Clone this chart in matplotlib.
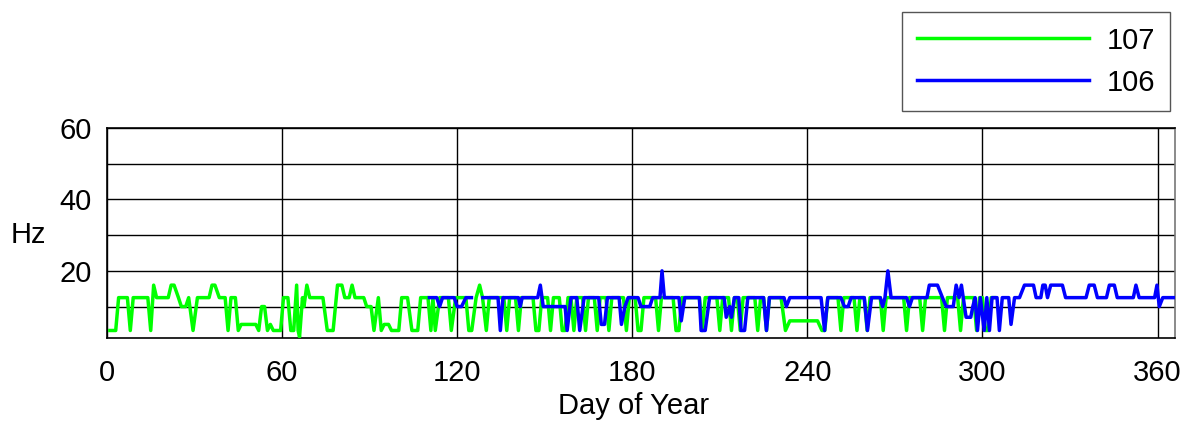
import numpy as np
import matplotlib
matplotlib.use("Agg")
import matplotlib.pyplot as plt
from matplotlib.ticker import MultipleLocator

plt.rcParams['font.family'] = ['Liberation Sans', 'DejaVu Sans']

# series 107 (green) : day of year, Hz
days_107 = [1, 3, 4, 7, 8, 9, 14, 15, 16, 17, 21, 22, 23, 24.5, 25.5, 27, 28, 29.5, 31, 35,
            36, 37, 38.5, 40.5, 41.5, 42.5, 44, 45, 46, 51, 52, 53, 54, 55, 56, 57, 59.5,
            60.5, 62, 63, 64, 65, 65.5, 66, 67, 67.5, 68.5, 69.5, 74, 75.5, 77.5, 79, 80.5,
            81.5, 83, 84, 85, 88, 89, 90.5, 91.5, 93, 94, 95, 96.5, 97.5, 100, 101, 103,
            104.5, 106.5, 107.5, 110, 111, 111.7, 112.5, 114, 117, 118, 119.5, 123, 124, 125,
            126.5, 127.7, 128.7, 130, 131, 136, 137, 138, 140, 141, 142, 146, 147, 148, 149,
            151, 152, 153, 155, 156, 157, 158, 159, 160, 161, 163, 164, 165, 167, 168, 169,
            171, 172, 173, 177, 178, 179, 181, 182, 183, 184, 188, 189, 190, 194, 195, 196,
            197, 203, 204, 205, 209, 210, 211, 213, 214, 215, 216, 217, 218, 222, 223, 224,
            225, 226, 227, 231, 232.5, 234, 243.5, 245, 246, 247, 250.5, 251.5, 252.5, 256,
            257, 258, 259.5, 260.5, 261.5, 265, 266, 267, 273, 274, 275, 278.5, 279.5, 280.5,
            286, 287, 288, 291.5, 292.5, 293.5, 297, 298, 299, 300, 301, 302, 303, 304]
hz_107 = [3.3, 3.3, 12.5, 12.5, 3.3, 12.5, 12.5, 3.3, 16, 12.5, 12.5, 16, 16, 12.5, 10, 10, 12.5, 3.3, 12.5, 12.5,
          16, 16, 12.5, 12.5, 3.3, 12.5, 12.5, 3.3, 5, 5, 3.3, 10, 10, 3.3, 5, 3.3, 3.3,
          12.5, 12.5, 3.3, 3.3, 16, 3.3, 1.5, 12.5, 10, 16, 12.5, 12.5, 3.3, 3.3, 16, 16,
          12.5, 12.5, 16, 12.5, 12.5, 10, 10, 3.3, 12.5, 3.3, 5, 5, 3.3, 3.3, 12.5, 12.5,
          3.3, 3.3, 12.5, 12.5, 3.3, 12.5, 3.3, 12.5, 12.5, 3.3, 12.5, 12.5, 3.3, 3.3,
          12.5, 16, 12.5, 3.3, 12.5, 12.5, 3.3, 12.5, 12.5, 3.3, 12.5, 12.5, 3.3, 3.3, 12.5,
          12.5, 3.3, 12.5, 12.5, 3.3, 3.3, 12.5, 12.5, 3.3, 12.5, 12.5, 3.3, 12.5, 12.5, 3.3, 12.5,
          12.5, 3.3, 12.5, 12.5, 3.3, 12.5, 12.5, 3.3, 3.3, 12.5, 12.5, 3.3, 12.5, 12.5, 3.3, 3.3,
          12.5, 12.5, 3.3, 12.5, 12.5, 3.3, 12.5, 12.5, 3.3, 12.5, 12.5, 3.3, 12.5, 12.5, 3.3, 12.5,
          12.5, 3.3, 12.5, 12.5, 3.3, 6, 6, 3.3, 3.3, 12.5, 12.5, 3.3, 12.5, 12.5,
          3.3, 12.5, 12.5, 3.3, 12.5, 12.5, 3.3, 12.5, 12.5, 3.3, 12.5, 12.5, 3.3, 12.5,
          12.5, 3.3, 12.5, 12.5, 3.3, 12.5, 12.5, 3.3, 12.5, 12.5, 3.3, 3.3, 12.5, 12.5]

# series 106 (blue), nan = missing days
days_106 = [110.5, 113, 114, 115, 119, 120, 121.5, 123, 124.9, 126, 128.8, 134, 134.8, 135.7, 141, 141.6,
            142.3, 147.6, 148.5, 149.5, 150, 152, 157, 157.7, 159, 161, 162, 163.5, 168.5, 169.4,
            170.5, 171.5, 175.5, 176.3, 177.5, 178.6, 182, 183, 186, 187, 189.5, 190.2, 191, 196,
            196.8, 198, 203, 203.6, 205, 206.5, 211.5, 212.2, 213.4, 214, 215, 216.5, 217.3, 218.5,
            219.6, 225, 226, 227, 232, 232.8, 234, 244.7, 245.9, 247, 251.5, 252.7, 254, 255, 259.5,
            260.6, 262, 265, 265.8, 266.6, 267.6, 268.7, 274, 275, 276, 281, 281.8, 284.6, 286.3,
            287.6, 290, 291, 292, 292.8, 294.4, 296, 296.7, 297.5, 298.3, 299.3, 300.6, 301.5, 302.4,
            303.3, 305, 305.8, 306.8, 309, 309.8, 311, 312.7, 314.4, 317.5, 318.4, 320, 320.7, 321.5,
            322.3, 323.4, 327.4, 328.5, 335.5, 336.6, 338.3, 339.4, 342.5, 343.5, 345.2, 346.2,
            351.7, 352.6, 353.7, 359, 359.8, 360.6, 361.8, 366]
hz_106 = [12.5, 12.5, 10, 12.5, 12.5, 10, 10, 12.5, 12.5, np.nan, 12.5, 12.5, 3.3, 12.5, 12.5, 10,
          12.5, 12.5, 16, 10, 10, 10, 10, 3.3, 12.5, 12.5, 3.3, 12.5, 12.5, 5,
          5, 12.5, 12.5, 5, 10, 12.5, 12.5, 10, 10, 12.5, 12.5, 20, 12.5, 12.5,
          6, 12.5, 12.5, 3.3, 3.3, 12.5, 12.5, 7, 10, 7, 12.5, 12.5, 3.3, 3.3,
          12.5, 12.5, 3.3, 12.5, 12.5, 10, 12.5, 12.5, 3.3, 12.5, 12.5, 10, 10, 12.5, 12.5,
          3.3, 12.5, 12.5, 10, 12.5, 20, 12.5, 12.5, 10, 12.5, 12.5, 16, 16, 12.5,
          10, 10, 16, 12.5, 16, 7, 7, 10, 12.5, 3.3, 12.5, 3.3, 12.5, 3.3,
          12.5, 12.5, 3.3, 12.5, 12.5, 5, 12.5, 12.5, 16, 16, 12.5, 12.5, 16, 16,
          12.5, 16, 16, 12.5, 12.5, 16, 16, 12.5, 12.5, 16, 16, 12.5,
          12.5, 16, 12.5, 12.5, 16, 10, 12.5, 12.5]

x_ticks = [0, 60, 120, 180, 240, 300, 360]
y_ticks = [20, 40, 60]

fig = plt.figure(figsize=(11.91, 4.26), dpi=100)
ax = fig.add_axes([0.0898, 0.2066, 0.8968, 0.4929])

ax.plot(days_107, hz_107, color='#00ff00', lw=2.5, label='107', zorder=3)
ax.plot(days_106, hz_106, color='#0000ff', lw=2.5, label='106', zorder=4)

ax.set_xlim(0, 366)
ax.set_ylim(1.2, 60)
ax.set_xticks(x_ticks)
ax.set_yticks(y_ticks)
ax.yaxis.set_minor_locator(MultipleLocator(10))
ax.grid(True, which='major', color='black', lw=1.0)
ax.grid(True, which='minor', axis='y', color='black', lw=1.0)
ax.tick_params(axis='x', which='major', labelsize=21, length=0, pad=15)
ax.tick_params(axis='y', which='major', labelsize=21, length=0, pad=11)
ax.tick_params(axis='y', which='minor', length=0)

for s in ['left', 'top', 'bottom']:
    ax.spines[s].set_color('black')
    ax.spines[s].set_linewidth(1.2)
ax.spines['right'].set_color('#777777')
ax.spines['right'].set_linewidth(1.2)

ax.set_xlabel('Day of Year', fontsize=21)
ax.xaxis.set_label_coords(0.4934, -0.255)
ax.set_ylabel('Hz', fontsize=21, rotation=0, va='center', ha='center')
ax.yaxis.set_label_coords(-0.074, 0.49)

leg = fig.legend(loc='upper right', bbox_to_anchor=(1170 / 1191, 1 - 12 / 426),
                 fontsize=21, handlelength=5.9, handletextpad=0.62, labelspacing=0.48,
                 borderpad=0.5, borderaxespad=0, fancybox=False, framealpha=1,
                 edgecolor='#555555')
leg.get_frame().set_linewidth(1.0)

fig.savefig('out.png', dpi=100)
